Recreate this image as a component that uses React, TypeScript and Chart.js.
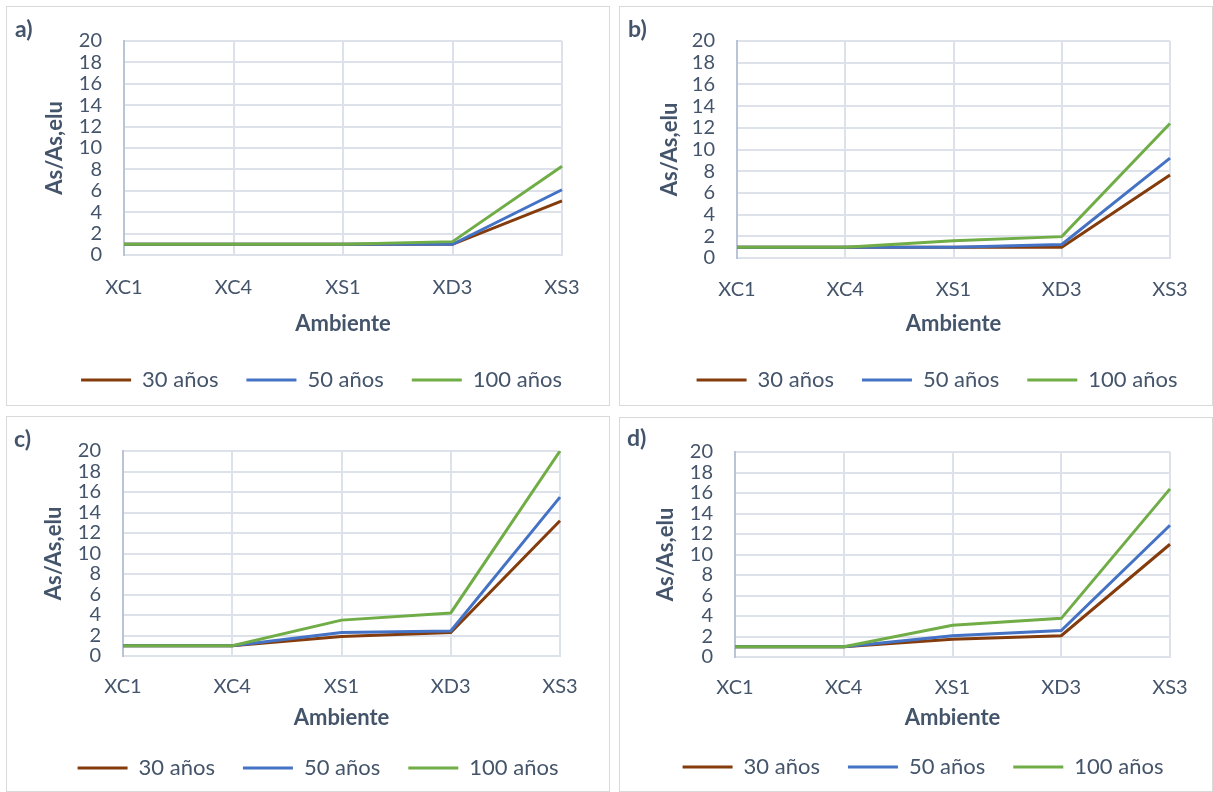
import React, { useEffect, useRef } from 'react';
import { Chart, registerables } from 'chart.js';

Chart.register(...registerables);

// ---------- data ----------
const categories = ['XC1', 'XC4', 'XS1', 'XD3', 'XS3'];
const seriesNames = ['30 años', '50 años', '100 años'];
const yMin = 0;
const yMax = 20;
const yStep = 2;

const a30 = [1, 1, 1, 1, 5.05];
const a50 = [1, 1, 1, 1, 6.1];
const a100 = [1, 1, 1, 1.25, 8.3];

const b30 = [1, 1, 1, 1, 7.65];
const b50 = [1, 1, 1, 1.25, 9.2];
const b100 = [1, 1, 1.6, 1.97, 12.4];

const c30 = [1, 1, 1.9, 2.3, 13.2];
const c50 = [1, 1, 2.3, 2.45, 15.5];
const c100 = [1, 1, 3.5, 4.2, 20];

const d30 = [1, 1, 1.72, 2.08, 11.0];
const d50 = [1, 1, 2.08, 2.58, 12.85];
const d100 = [1, 1, 3.1, 3.77, 16.4];

// ---------- styles ----------
const FONT = 'Lato, "Open Sans", "DejaVu Sans", sans-serif';
const TEXT = '#44546a';
const GRID = '#dde2ea';
const AXIS = '#b9c5d6';
const COLORS = ['#843c0c', '#4472c4', '#70ad47'];
const TICK_SIZE = 20;
const TITLE_SIZE = 22;
const LEGEND_SIZE = 22;
const LEG_PAD = 28;

type Layout = {
  tag: string;
  box: [number, number, number, number]; // page x, y, w, h
  plot: [number, number, number, number]; // page left, top, right, bottom
  xLab: number;
  xTitle: number;
  yTitle: number;
  legY: number;
  legX: number;
  tagPos: [number, number]; // glyph left, baseline
};

const layouts: Layout[] = [
  { tag: 'a)', box: [6, 6, 604, 400], plot: [124, 28, 562, 255], xLab: 288, xTitle: 324, yTitle: 55, legY: 380, legX: 321.5, tagPos: [16, 37] },
  { tag: 'b)', box: [619, 6, 594, 400], plot: [737, 31.5, 1170, 258], xLab: 290, xTitle: 324, yTitle: 670, legY: 380, legX: 937, tagPos: [629, 37] },
  { tag: 'c)', box: [6, 416, 604, 376], plot: [123, 437, 560, 656], xLab: 687, xTitle: 718, yTitle: 54, legY: 768, legX: 318, tagPos: [15, 447] },
  { tag: 'd)', box: [619, 417, 594, 375], plot: [735, 432, 1170, 657], xLab: 688, xTitle: 718, yTitle: 666, legY: 767, legX: 923, tagPos: [628, 446] },
];

const panelData = [
  [a30, a50, a100],
  [b30, b50, b100],
  [c30, c50, c100],
  [d30, d50, d100],
];

function Panel({ layout, series }: { layout: Layout; series: number[][] }) {
  const ref = useRef<HTMLCanvasElement | null>(null);
  const [bx, by, bw, bh] = layout.box;
  const cx = bx + 1;
  const cy = by + 1;
  const W = bw - 2;
  const titleLH = TITLE_SIZE * 1.2;
  const tickLH = TICK_SIZE * 1.2;
  const [pL, pT, pR, pB] = layout.plot;
  const chartRight = pR - cx;
  const legXc = layout.legX - cx;
  const Wc = Math.ceil(Math.max(W, 2 * legXc));
  const padRight = Wc - 2 * legXc;
  const rightW = 2 * legXc - chartRight;
  const padTop = pT - cy;
  const wY = pL - cx;
  const yTitlePad = layout.yTitle - cx - titleLH / 2;
  const H = Math.round(layout.legY - cy + LEGEND_SIZE / 2 + 10);
  const legendH = LEG_PAD + LEGEND_SIZE + 10;
  const chartBottom = pB - cy;
  const hX = H - legendH - chartBottom;
  const xTickPad = layout.xLab - pB - tickLH / 2;
  const xTitlePad = chartBottom + hX - (layout.xTitle - cy) - titleLH / 2;

  useEffect(() => {
    if (!ref.current) return;
    const chart = new Chart(ref.current, {
      type: 'line',
      data: {
        labels: categories,
        datasets: series.map((vals, i) => ({
          label: seriesNames[i],
          data: vals,
          yAxisID: 'y',
          borderColor: COLORS[i],
          backgroundColor: COLORS[i],
          borderWidth: 3,
          pointRadius: 0,
          pointHoverRadius: 0,
          tension: 0,
          fill: false,
          order: 2 - i,
        })),
      },
      options: {
        responsive: false,
        animation: false,
        devicePixelRatio: 1,
        layout: { padding: { left: 0, top: padTop, right: padRight, bottom: 0 } },
        plugins: {
          tooltip: { enabled: false },
          legend: {
            position: 'bottom',
            labels: {
              boxWidth: 50,
              boxHeight: 3,
              padding: LEG_PAD,
              color: TEXT,
              font: { family: FONT, size: LEGEND_SIZE },
              sort: (a: any, b: any) => a.datasetIndex - b.datasetIndex,
              generateLabels: (ch: any) =>
                (Chart.defaults.plugins.legend.labels.generateLabels as any)(ch).map((it: any) => ({
                  ...it,
                  lineWidth: 0,
                })),
            },
          },
        },
        scales: {
          x: {
            grid: { color: GRID, lineWidth: 2, drawTicks: false },
            border: { color: GRID, width: 2 },
            ticks: {
              padding: xTickPad,
              color: TEXT,
              font: { family: FONT, size: TICK_SIZE },
              maxRotation: 0,
              autoSkip: false,
            },
            title: {
              display: true,
              text: 'Ambiente',
              color: TEXT,
              font: { family: FONT, size: TITLE_SIZE, weight: 'bold' },
              padding: { top: 0, bottom: xTitlePad },
            },
            afterFit: (s: any) => {
              s.height = hX;
            },
          },
          y: {
            position: 'left',
            min: yMin,
            max: yMax,
            grid: { color: GRID, lineWidth: 2, drawTicks: false },
            border: { color: AXIS, width: 2 },
            ticks: {
              stepSize: yStep,
              padding: 22,
              autoSkip: false,
              color: TEXT,
              font: { family: FONT, size: TICK_SIZE },
            },
            title: {
              display: true,
              text: 'As/As,elu',
              color: TEXT,
              font: { family: FONT, size: TITLE_SIZE, weight: 'bold' },
              padding: { top: yTitlePad, bottom: 0 },
            },
            afterFit: (s: any) => {
              s.width = wY;
            },
          },
          spacer: {
            type: 'linear',
            axis: 'y',
            position: 'right',
            display: true,
            grid: { display: false, drawTicks: false },
            border: { display: false },
            ticks: { display: false },
            title: { display: false },
            afterFit: (s: any) => {
              s.width = rightW;
            },
          },
        },
      } as any,
    });
    return () => chart.destroy();
  }, []);

  const tagSize = 23;
  return (
    <div
      style={{
        position: 'absolute',
        left: bx,
        top: by,
        width: bw,
        height: bh,
        boxSizing: 'border-box',
        border: '1px solid #d9d9d9',
        background: '#ffffff',
        overflow: 'hidden',
      }}
    >
      <canvas ref={ref} width={Wc} height={H} style={{ position: 'absolute', left: 0, top: 0, width: Wc, height: H }} />
      <div
        style={{
          position: 'absolute',
          left: layout.tagPos[0] - cx - 1,
          top: layout.tagPos[1] - cy - 0.887 * tagSize,
          fontFamily: FONT,
          fontWeight: 'bold',
          fontSize: tagSize,
          lineHeight: 1,
          color: TEXT,
          whiteSpace: 'nowrap',
        }}
      >
        {layout.tag}
      </div>
    </div>
  );
}

export default function App() {
  return (
    <div style={{ position: 'absolute', left: 0, top: 0, width: 1213, height: 792, background: '#ffffff', overflow: 'hidden' }}>
      {layouts.map((l, i) => (
        <Panel key={l.tag} layout={l} series={panelData[i]} />
      ))}
    </div>
  );
}
